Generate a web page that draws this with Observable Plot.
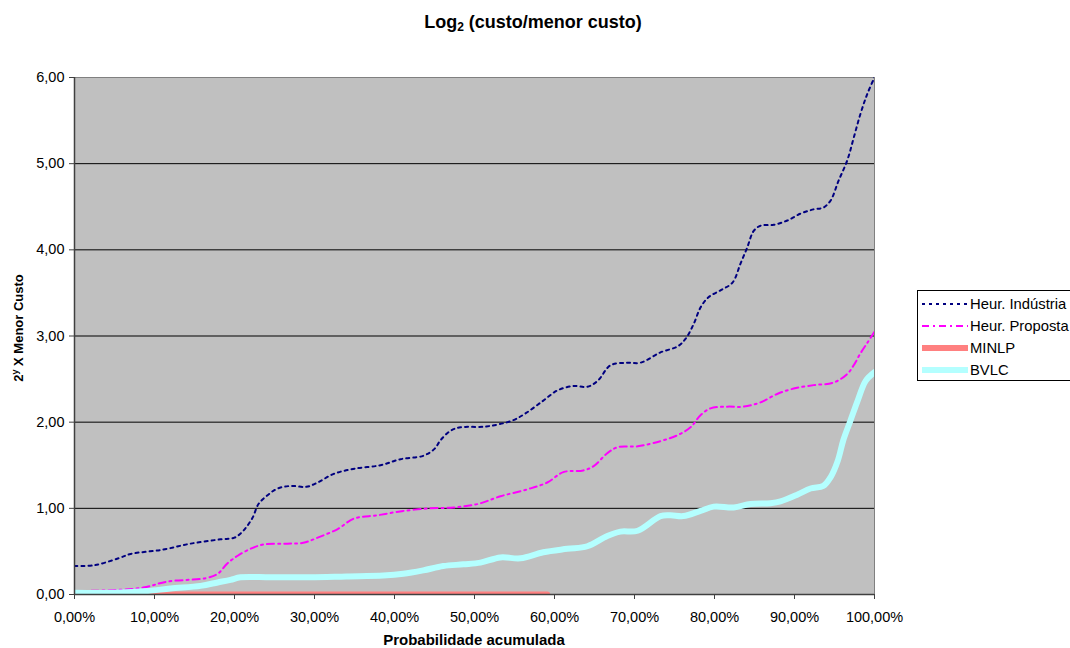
<!DOCTYPE html>
<html><head><meta charset="utf-8">
<script src="https://cdn.jsdelivr.net/npm/d3@7"></script>
<script src="https://cdn.jsdelivr.net/npm/@observablehq/plot@0.6"></script>
<style>
body{margin:0;background:#fff;font-family:"Liberation Sans",Arial,sans-serif;color:#000;}
#wrap{position:relative;width:1070px;height:648px;overflow:hidden;}
.ov{position:absolute;white-space:nowrap;}
#title{left:0;width:1066px;top:13px;text-align:center;font-weight:bold;font-size:18px;line-height:18px;}
#title sub{font-size:12px;vertical-align:-3px;line-height:0;}
#ylab{left:18px;top:328px;transform:translate(-50%,-50%) rotate(-90deg);font-weight:bold;font-size:13px;line-height:13px;}
#ylab sup{font-size:9px;vertical-align:5px;line-height:0;}
#xlab{left:0;width:948px;top:633px;text-align:center;font-weight:bold;font-size:15px;line-height:14px;}
#legend{left:917px;top:290px;width:200px;height:89px;border:1px solid #000;background:#fff;}
.row{position:absolute;left:0;height:18px;line-height:18px;font-size:14.8px;}
.row svg{position:absolute;left:4px;top:5px;}
.row span{position:absolute;left:52px;top:0;}
</style>
</head><body>
<div id="wrap"></div>
<script>
// Probabilidade acumulada (%) and values, per series
const indX = [0,2.5,5.5,7,11,14.5,18.25,20,21.1,22.25,23,24.1,25.4,27,29,30.4,32.4,35,38.25,40.75,43.6,45,45.75,47,48.25,51.5,54.75,56.5,58.6,60.4,62.4,64.1,65.4,67,69.1,70.75,73.25,75.4,76.4,77.4,78.25,79.25,80.75,82.25,83.25,84.1,84.9,85.75,87.4,89.1,90.75,92.4,93.6,94.5,95.5,96.6,97.4,98.25,99.1,100];
const indY = [0.33,0.34,0.42,0.47,0.52,0.59,0.64,0.66,0.74,0.89,1.05,1.15,1.23,1.26,1.25,1.30,1.40,1.46,1.50,1.57,1.61,1.69,1.79,1.90,1.94,1.95,2.02,2.11,2.25,2.37,2.42,2.41,2.48,2.66,2.69,2.69,2.81,2.88,2.97,3.14,3.33,3.45,3.53,3.62,3.84,4.03,4.22,4.28,4.29,4.34,4.42,4.47,4.49,4.57,4.80,5.04,5.30,5.58,5.81,6.00];

const propX = [0,4.9,8.6,11.6,16.4,17.9,19.1,20.4,22,23.6,26.6,28.6,30.4,32.9,34.9,37.9,41.1,44.5,47.4,50.4,53.25,56.6,59.1,61.1,63.6,64.9,66.6,67.9,70.4,73.25,75.4,77,78.25,79.5,81.6,83.6,85.75,87.9,89.9,92.4,94.9,96.6,97.4,98.25,99.1,100];
const propY = [0.04,0.05,0.08,0.15,0.19,0.24,0.36,0.45,0.53,0.58,0.59,0.60,0.66,0.76,0.88,0.92,0.97,1.00,1.01,1.05,1.14,1.22,1.30,1.42,1.44,1.49,1.64,1.71,1.72,1.78,1.85,1.94,2.08,2.16,2.18,2.18,2.23,2.33,2.39,2.43,2.46,2.56,2.66,2.80,2.92,3.05];

const minlpX = [0,59.1];
const minlpY = [0,0];

const bvlcX = [0,5,9.1,12,15.75,17.9,19.5,20.75,24.5,29.5,34,38.6,41.1,43.6,46.1,48.6,50.75,53.25,55.75,58.6,61.6,64.1,66.6,68.25,70.4,73.25,74.5,76.1,78.25,79.9,82.4,84.5,87,88.25,90.4,92,93.6,94.5,95.4,96.1,97,97.9,98.9,100];
const bvlcY = [0.02,0.02,0.04,0.07,0.10,0.14,0.17,0.20,0.20,0.20,0.21,0.22,0.24,0.28,0.33,0.35,0.37,0.43,0.42,0.49,0.53,0.56,0.68,0.73,0.74,0.91,0.92,0.91,0.97,1.02,1.01,1.05,1.06,1.08,1.16,1.23,1.26,1.36,1.55,1.79,2.02,2.25,2.48,2.58];

const xTicks = [0,10,20,30,40,50,60,70,80,90,100];
const yTicks = [0,1,2,3,4,5,6];
const gridY = [1,2,3,4,5];

const seriesNames = ["Heur. Indústria","Heur. Proposta","MINLP","BVLC"];
const seriesColors = ["#000080","#ff00ff","#ff8080","#b4ffff"];
const seriesWidths = [2,2,6,6];
const seriesDash = ["3,4","7,4,2,4",null,null];

const toRows = (xs, ys) => xs.map((x, i) => ({x, y: ys[i]}));
const series = [toRows(indX, indY), toRows(propX, propY), toRows(minlpX, minlpY), toRows(bvlcX, bvlcY)];

const fmtY = d => d.toFixed(2).replace(".", ",");
const fmtX = d => d.toFixed(2).replace(".", ",") + "%";

const lineMarks = series.map((data, i) => Plot.line(data, {
  x: "x", y: "y",
  stroke: seriesColors[i],
  strokeWidth: seriesWidths[i],
  strokeDasharray: seriesDash[i] || undefined,
  curve: i === 2 ? "linear" : "catmull-rom",
  clip: true
}));

const chart = Plot.plot({
  width: 1070,
  height: 648,
  marginLeft: 74,
  marginRight: 196,
  marginTop: 77,
  marginBottom: 54,
  style: {fontFamily: "'Liberation Sans', Arial, sans-serif", fontSize: "14.5px", color: "#000", background: "#fff"},
  x: {domain: [0, 100]},
  y: {domain: [0, 6]},
  marks: [
    Plot.frame({fill: "#c0c0c0", stroke: "#808080"}),
    Plot.ruleY(gridY, {stroke: "#000", strokeWidth: 1}),
    ...lineMarks,
    Plot.ruleX([0], {stroke: "#404040", strokeWidth: 1.5}),
    Plot.ruleY([0], {stroke: "#404040", strokeWidth: 1.5}),
    Plot.axisY(yTicks, {tickFormat: fmtY, tickSize: 5, tickPadding: 5, label: null, stroke: "#404040"}),
    Plot.axisX(xTicks, {tickFormat: fmtX, tickSize: 5, tickPadding: 12, label: null, stroke: "#404040"})
  ]
});

const wrap = document.getElementById("wrap");
wrap.appendChild(chart);

function addDiv(id, html) {
  const d = document.createElement("div");
  d.id = id; d.className = "ov"; d.innerHTML = html;
  wrap.appendChild(d);
  return d;
}
addDiv("title", "Log<sub>2</sub> (custo/menor custo)");
addDiv("ylab", "2<sup>y</sup> X Menor Custo");
addDiv("xlab", "Probabilidade acumulada");

const leg = addDiv("legend", "");
const rowCenters = [12.5, 34.8, 57.1, 79.4];
seriesNames.forEach((name, i) => {
  const r = document.createElement("div");
  r.className = "row";
  r.style.top = (rowCenters[i] - 9) + "px";
  const dash = seriesDash[i] ? ` stroke-dasharray="${seriesDash[i]}"` : "";
  r.innerHTML = `<svg width="46" height="8"><line x1="0" y1="4" x2="46" y2="4" stroke="${seriesColors[i]}" stroke-width="${seriesWidths[i]}"${dash}/></svg><span>${name}</span>`;
  leg.appendChild(r);
});
</script>
</body></html>
